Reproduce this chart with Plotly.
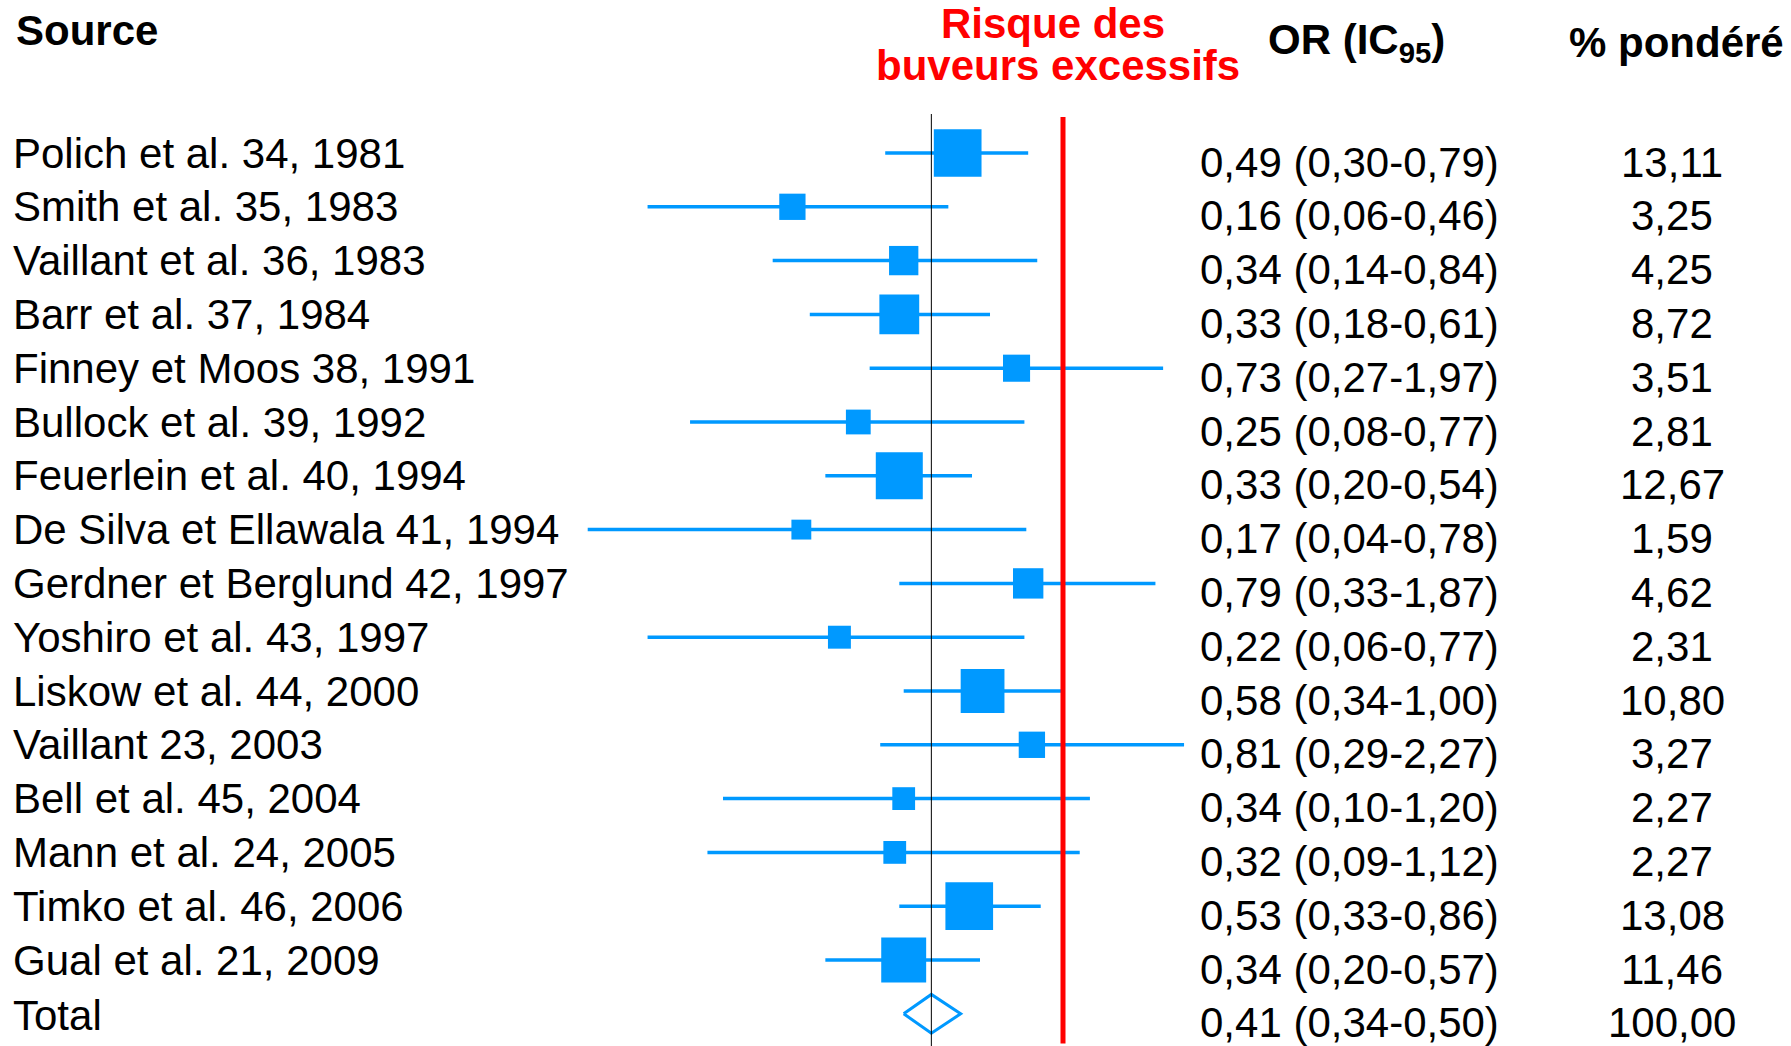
import math
import plotly.graph_objects as go

# ---------------- data ----------------
sources = [
    "Polich et al. 34, 1981",
    "Smith et al. 35, 1983",
    "Vaillant et al. 36, 1983",
    "Barr et al. 37, 1984",
    "Finney et Moos 38, 1991",
    "Bullock et al. 39, 1992",
    "Feuerlein et al. 40, 1994",
    "De Silva et Ellawala 41, 1994",
    "Gerdner et Berglund 42, 1997",
    "Yoshiro et al. 43, 1997",
    "Liskow et al. 44, 2000",
    "Vaillant 23, 2003",
    "Bell et al. 45, 2004",
    "Mann et al. 24, 2005",
    "Timko et al. 46, 2006",
    "Gual et al. 21, 2009",
]
odds = [0.49, 0.16, 0.34, 0.33, 0.73, 0.25, 0.33, 0.17, 0.79, 0.22, 0.58, 0.81, 0.34, 0.32, 0.53, 0.34]
ci_low = [0.30, 0.06, 0.14, 0.18, 0.27, 0.08, 0.20, 0.04, 0.33, 0.06, 0.34, 0.29, 0.10, 0.09, 0.33, 0.20]
ci_high = [0.79, 0.46, 0.84, 0.61, 1.97, 0.77, 0.54, 0.78, 1.87, 0.77, 1.00, 2.27, 1.20, 1.12, 0.86, 0.57]
weights = [13.11, 3.25, 4.25, 8.72, 3.51, 2.81, 12.67, 1.59, 4.62, 2.31, 10.80, 3.27, 2.27, 2.27, 13.08, 11.46]

total_label = "Total"
total_or = 0.41
total_low = 0.34
total_high = 0.50
total_weight = 100.00

null_value = 1.0

header_source = "Source"
header_risk = ["Risque des", "buveurs excessifs"]
header_or = "OR (IC<sub>95</sub>)"
header_weight = "% pondéré"

# ---------------- style ----------------
W, H = 1791, 1046
BLUE = "#0099ff"
RED = "#ff0000"
FONT = "Liberation Sans, Arial, sans-serif"
FS = 42


def fr(v):
    return f"{v:.2f}".replace(".", ",")


n = len(sources)
rows = list(range(n))
total_row = n

fig = go.Figure()

# CI lines
xs, ys = [], []
for i in rows:
    xs += [ci_low[i], ci_high[i], None]
    ys += [i, i, None]
fig.add_trace(go.Scatter(x=xs, y=ys, mode="lines",
                         line=dict(color=BLUE, width=3.5),
                         hoverinfo="skip", showlegend=False))

# weighted squares
sizes = [5 + 11.8 * math.sqrt(w) for w in weights]
fig.add_trace(go.Scatter(x=odds, y=rows, mode="markers",
                         marker=dict(symbol="square", size=sizes, color=BLUE,
                                     opacity=1, line=dict(width=0)),
                         hoverinfo="skip", showlegend=False))

# total diamond
dh = 0.36
fig.add_trace(go.Scatter(
    x=[total_low, total_or, total_high, total_or, total_low],
    y=[total_row, total_row - dh, total_row, total_row + dh, total_row],
    mode="lines", line=dict(color=BLUE, width=3),
    hoverinfo="skip", showlegend=False))

# pooled OR line (thin black) and null line (red)
fig.add_shape(type="line", xref="x", yref="y",
              x0=total_or, x1=total_or, y0=-0.725, y1=total_row + 1.0,
              line=dict(color="black", width=1), layer="above")
fig.add_shape(type="line", xref="x", yref="y",
              x0=null_value, x1=null_value, y0=-0.67, y1=total_row + 0.55,
              line=dict(color=RED, width=5), layer="above")

ann = []
labels = sources + [total_label]
or_txt = [f"{fr(o)} ({fr(l)}-{fr(h)})" for o, l, h in zip(odds, ci_low, ci_high)]
or_txt.append(f"{fr(total_or)} ({fr(total_low)}-{fr(total_high)})")
w_txt = [fr(w) for w in weights] + [fr(total_weight)]

for i, lab in enumerate(labels):
    ann.append(dict(text=lab, xref="paper", yref="y", x=11 / W, y=i + (0.04 if i == total_row else 0),
                    xanchor="left", yanchor="middle", showarrow=False,
                    font=dict(family=FONT, size=FS, color="black")))
    ann.append(dict(text=or_txt[i], xref="paper", yref="y", x=1198 / W, y=i + 0.17,
                    xanchor="left", yanchor="middle", showarrow=False,
                    font=dict(family=FONT, size=FS, color="black")))
    ann.append(dict(text=w_txt[i], xref="paper", yref="y", x=1672 / W, y=i + 0.17,
                    xanchor="center", yanchor="middle", showarrow=False,
                    font=dict(family=FONT, size=FS, color="black")))

# headers
ann.append(dict(text=f"<b>{header_source}</b>", xref="paper", yref="y", x=14 / W, y=-2.27,
                xanchor="left", yanchor="middle", showarrow=False,
                font=dict(family=FONT, size=FS, color="black")))
ann.append(dict(text=f"<b>{header_risk[0]}</b>", xref="paper", yref="y", x=1053 / W, y=-2.40,
                xanchor="center", yanchor="middle", showarrow=False,
                font=dict(family=FONT, size=FS, color=RED)))
ann.append(dict(text=f"<b>{header_risk[1]}</b>", xref="paper", yref="y", x=1058 / W, y=-1.62,
                xanchor="center", yanchor="middle", showarrow=False,
                font=dict(family=FONT, size=FS, color=RED)))
ann.append(dict(text=f"<b>{header_or}</b>", xref="paper", yref="y", x=1356 / W, y=-2.06,
                xanchor="center", yanchor="middle", showarrow=False,
                font=dict(family=FONT, size=FS, color="black")))
ann.append(dict(text=f"<b>{header_weight}</b>", xref="paper", yref="y", x=1676 / W, y=-2.06,
                xanchor="center", yanchor="middle", showarrow=False,
                font=dict(family=FONT, size=FS, color="black")))

px_per_decade = 340.0
x_null_px = 1063.0
row_px = 53.8
first_row_px = 153.0

fig.update_layout(
    width=W, height=H,
    margin=dict(l=0, r=0, t=0, b=0),
    paper_bgcolor="white", plot_bgcolor="white",
    xaxis=dict(type="log", visible=False, domain=[0, 1],
               range=[-x_null_px / px_per_decade, (W - x_null_px) / px_per_decade]),
    yaxis=dict(visible=False, domain=[0, 1],
               range=[-first_row_px / row_px + H / row_px, -first_row_px / row_px]),
    annotations=ann,
    showlegend=False,
)

fig.write_html("out.html")
